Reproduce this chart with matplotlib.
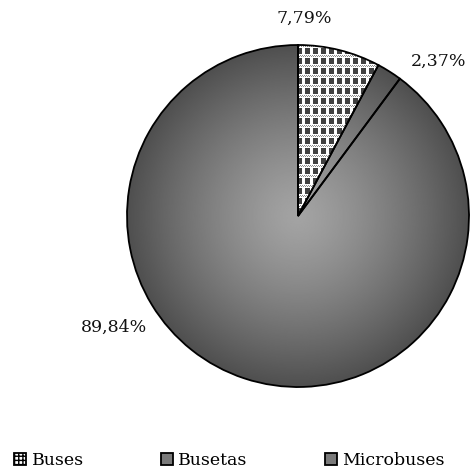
import numpy as np
import matplotlib
matplotlib.use("Agg")
import matplotlib.pyplot as plt
from matplotlib.patches import Patch

categories = ["Buses", "Busetas", "Microbuses"]
shares = [7.79, 2.37, 89.84]
pct_labels = ["7,79%", "2,37%", "89,84%"]

plt.rcParams['font.family'] = ['DejaVu Serif']

W, H = 470, 475
fig = plt.figure(figsize=(W / 100, H / 100), dpi=100)
ax = fig.add_axes([0, 0, 1, 1])

cx, cy, r = 298, H - 216, 171

wedges, _ = ax.pie(shares, startangle=90, counterclock=False, center=(cx, cy),
                   radius=r, frame=True,
                   wedgeprops=dict(facecolor='none', edgecolor='black', linewidth=1.3))
ax.set_xlim(0, W)
ax.set_ylim(0, H)
ax.set_aspect('equal')
ax.axis('off')

# radial gray gradient (light centre, darker rim)
n = 400
xs = np.linspace(-1, 1, n)
X, Y = np.meshgrid(xs, xs)
R = np.clip(np.sqrt(X ** 2 + Y ** 2), 0, 1)
grad = 0.64 - 0.33 * R ** 1.3
extent = (cx - r, cx + r, cy - r, cy + r)

# checker pattern for buses
px = np.arange(2 * r)
PX, PY = np.meshgrid(px, px)
pat = np.ones(PX.shape)
dark = ((PX % 8) >= 2) & ((PX % 8) <= 6) & ((PY % 10) >= 3) & ((PY % 10) <= 8)
pat[dark] = 0.25
dots = ((PY % 10) <= 1) & ((PX + PY) % 2 == 0)
pat[dots] = 0.55

for i, w in enumerate(wedges):
    img = pat if i == 0 else grad
    im = ax.imshow(img, cmap='gray', vmin=0, vmax=1, extent=extent,
                   origin='lower', interpolation='nearest' if i == 0 else 'bilinear',
                   zorder=0)
    im.set_clip_path(w)

# percentage labels
label_pos = [(304, H - 18), (439, H - 61), (114, H - 327)]
for (x, y), t in zip(label_pos, pct_labels):
    ax.text(x, y, t, ha='center', va='center', fontsize=12.5, color='#111111')

handles = [
    Patch(facecolor='white', edgecolor='black', hatch='++++', linewidth=1.3),
    Patch(facecolor='#7a7a7a', edgecolor='black', linewidth=1.3),
    Patch(facecolor='#7a7a7a', edgecolor='black', linewidth=1.3),
]
fig.legend(handles, categories, loc='lower left', bbox_to_anchor=(0.008, -0.01),
           ncol=3, frameon=False, fontsize=12.5, handlelength=0.7, handleheight=0.7,
           handletextpad=0.3, columnspacing=4.45, borderaxespad=0.2)

fig.savefig("out.png", dpi=100)
